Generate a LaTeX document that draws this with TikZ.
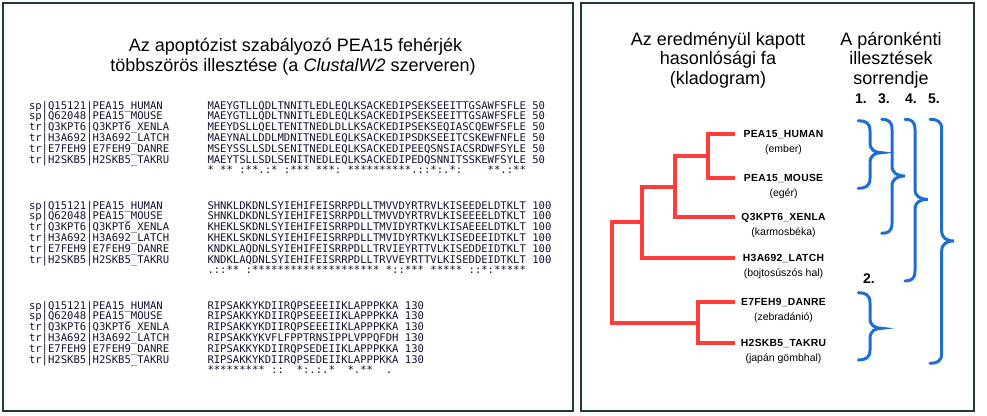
\documentclass[tikz,border=0pt]{standalone}
\usepackage{fontspec}
\setmainfont{Liberation Sans}
\newfontfamily\monof{DejaVu Sans Mono}
\definecolor{panelcol}{HTML}{1E3A3A}
\definecolor{treered}{HTML}{FF3B3B}
\definecolor{braceblue}{HTML}{1E6ED2}
\definecolor{seqcol}{HTML}{1A1030}
\newcommand\drawcbrace[6]{% left, spine, tip, top, middle, bottom
  \draw[brc] (#1,#4) .. controls ({#1+0.6*(#2-#1)},#4) and (#2,{#4+2}) .. (#2,{#4+10})
    -- (#2,{#5-10}) .. controls (#2,{#5-3}) and ({#2+0.4*(#3-#2)},#5) .. (#3,#5)
    .. controls ({#2+0.4*(#3-#2)},#5) and (#2,{#5+3}) .. (#2,{#5+10})
    -- (#2,{#6-10}) .. controls (#2,{#6-2}) and ({#1+0.6*(#2-#1)},#6) .. (#1,#6);}
\tikzset{
  panel/.style={draw=panelcol, line width=1.3bp},
  ttl/.style={font=\fontsize{18bp}{20bp}\selectfont, anchor=base, inner sep=0pt, text=black},
  seq/.style={font=\monof\fontsize{10.58bp}{12bp}\selectfont\frenchspacing, anchor=base west, inner sep=0pt, outer sep=0pt, text=seqcol},
  branch/.style={draw=treered, line width=4bp},
  lname/.style={font=\bfseries\fontsize{10.3bp}{12bp}\selectfont\addfontfeature{LetterSpace=3}, anchor=base, inner sep=0pt},
  lsub/.style={font=\fontsize{10.5bp}{12bp}\selectfont, anchor=base, inner sep=0pt},
  brc/.style={draw=braceblue, line width=3bp, line cap=round},
  num/.style={font=\bfseries\fontsize{14bp}{16bp}\selectfont, anchor=base, inner sep=0pt}
}
\begin{document}
\begin{tikzpicture}[x=1bp,y=-1bp]
\useasboundingbox (0,0) rectangle (987,415);
\draw[panel] (3,3) rectangle (573,411);
\draw[panel] (581,3) rectangle (974,411);

% titles
\node[ttl] (t1a) at (295.5,51.7) {Az apoptózist szabályozó PEA15 fehérjék};
\node[ttl] (t1b) at (293,71.7) {többszörös illesztése (a \textit{ClustalW2} szerveren)};
\node[ttl] (t2a) at (718,45) {Az eredményül kapott};
\node[ttl] (t2b) at (718,64.5) {hasonlósági fa};
\node[ttl] (t2c) at (718,84) {(kladogram)};
\node[ttl] (t3a) at (891,45) {A páronkénti};
\node[ttl] (t3b) at (891,64.5) {illesztések};
\node[ttl] (t3c) at (891,84) {sorrendje};

% block 1
\node[seq] (n00) at (29,109.0) {sp|Q15121|PEA15\_HUMAN};
\node[seq] (n01) at (29,119.8) {sp|Q62048|PEA15\_MOUSE};
\node[seq] (n02) at (29,130.6) {tr|Q3KPT6|Q3KPT6\_XENLA};
\node[seq] (n03) at (29,141.4) {tr|H3A692|H3A692\_LATCH};
\node[seq] (n04) at (29,152.2) {tr|E7FEH9|E7FEH9\_DANRE};
\node[seq] (n05) at (29,163.0) {tr|H2SKB5|H2SKB5\_TAKRU};
\node[seq] (s00) at (207.5,109.0) {MAEYGTLLQDLTNNITLEDLEQLKSACKEDIPSEKSEEITTGSAWFSFLE~50};
\node[seq] (s01) at (207.5,119.8) {MAEYGTLLQDLTNNITLEDLEQLKSACKEDIPSEKSEEITTGSAWFSFLE~50};
\node[seq] (s02) at (207.5,130.6) {MEEYDSLLQELTENITNEDLDLLKSACKEDIPSEKSEQIASCQEWFSFLE~50};
\node[seq] (s03) at (207.5,141.4) {MAEYNALLDDLMDNITNEDLEQLKSACKEDIPSDKSEEITCSKEWFNFLE~50};
\node[seq] (s04) at (207.5,152.2) {MSEYSSLLSDLSENITNEDLEQLKSACKEDIPEEQSNSIACSRDWFSYLE~50};
\node[seq] (s05) at (207.5,163.0) {MAEYTSLLSDLSENITNEDLEQLKSACKEDIPEDQSNNITSSKEWFSYLE~50};
\node[seq] (c0) at (207.5,173.8) {*~**~:**.:*~:***~***:~**********.::*:.*:~~~~**.:**};

% block 2
\node[seq] (n10) at (29,209.0) {sp|Q15121|PEA15\_HUMAN};
\node[seq] (n11) at (29,219.8) {sp|Q62048|PEA15\_MOUSE};
\node[seq] (n12) at (29,230.6) {tr|Q3KPT6|Q3KPT6\_XENLA};
\node[seq] (n13) at (29,241.4) {tr|H3A692|H3A692\_LATCH};
\node[seq] (n14) at (29,252.2) {tr|E7FEH9|E7FEH9\_DANRE};
\node[seq] (n15) at (29,263.0) {tr|H2SKB5|H2SKB5\_TAKRU};
\node[seq] (s10) at (207.5,209.0) {SHNKLDKDNLSYIEHIFEISRRPDLLTMVVDYRTRVLKISEEDELDTKLT~100};
\node[seq] (s11) at (207.5,219.8) {SHNKLDKDNLSYIEHIFEISRRPDLLTMVVDYRTRVLKISEEEELDTKLT~100};
\node[seq] (s12) at (207.5,230.6) {KHEKLSKDNLSYIEHIFEISRRPDLLTMVIDYRTKVLKISAEEELDTKLT~100};
\node[seq] (s13) at (207.5,241.4) {KHEKLSKDNLSYIEHIFEISRRPDLLTMVIDYRTKVLKISEDEEIDTKLT~100};
\node[seq] (s14) at (207.5,252.2) {KNDKLAQDNLSYIEHIFEISRRPDLLTRVIEYRTTVLKISEDDEIDTKLT~100};
\node[seq] (s15) at (207.5,263.0) {KNDKLAQDNLSYIEHIFEISRRPDLLTRVVEYRTTVLKISEDDEIDTKLT~100};
\node[seq] (c1) at (207.5,273.8) {.::**~:********************~*::***~*****~::*:*****};

% block 3
\node[seq] (n20) at (29,309.0) {sp|Q15121|PEA15\_HUMAN};
\node[seq] (n21) at (29,319.8) {sp|Q62048|PEA15\_MOUSE};
\node[seq] (n22) at (29,330.6) {tr|Q3KPT6|Q3KPT6\_XENLA};
\node[seq] (n23) at (29,341.4) {tr|H3A692|H3A692\_LATCH};
\node[seq] (n24) at (29,352.2) {tr|E7FEH9|E7FEH9\_DANRE};
\node[seq] (n25) at (29,363.0) {tr|H2SKB5|H2SKB5\_TAKRU};
\node[seq] (s20) at (207.5,309.0) {RIPSAKKYKDIIRQPSEEEIIKLAPPPKKA~130};
\node[seq] (s21) at (207.5,319.8) {RIPSAKKYKDIIRQPSEEEIIKLAPPPKKA~130};
\node[seq] (s22) at (207.5,330.6) {RIPSAKKYKDIIRQPSEEEIIKLAPPPKKA~130};
\node[seq] (s23) at (207.5,341.4) {RIPSAKKYKVFLFPPTRNSIPPLVPPQFDH~130};
\node[seq] (s24) at (207.5,352.2) {RIPSAKKYKDIIRQPSEDEIIKLAPPPKKA~130};
\node[seq] (s25) at (207.5,363.0) {RIPSAKKYKDIIRQPSEDEIIKLAPPPKKA~130};
\node[seq] (c2) at (207.5,373.8) {*********~::~~*:.:.*~~*.**~~.};

% tree
\coordinate (lhum) at (735,134);
\coordinate (lmou) at (735,178);
\coordinate (lxen) at (735,217);
\coordinate (llat) at (735,258);
\coordinate (ldan) at (735,302);
\coordinate (ltak) at (735,343);
\coordinate (j1) at (708,156);
\coordinate (j2) at (675,186.5);
\coordinate (j3) at (642,222);
\coordinate (j4) at (698,322.5);
\coordinate (jr) at (612,272.25);
\draw[branch] (lhum) -| (j1) |- (lmou);
\draw[branch] (j1) -| (j2) |- (lxen);
\draw[branch] (j2) -| (j3) |- (llat);
\draw[branch] (j3) -| (jr) |- (j4);
\draw[branch] (ldan) -| (j4) |- (ltak);

% leaf labels
\node[lname] (hum) at (783.5,137.7) {PEA15\_HUMAN};
\node[lsub] (humc) at (783.5,152.7) {(ember)};
\node[lname] (mou) at (783.5,181.7) {PEA15\_MOUSE};
\node[lsub] (mouc) at (783.5,196.7) {(egér)};
\node[lname] (xen) at (783.5,220.7) {Q3KPT6\_XENLA};
\node[lsub] (xenc) at (783.5,235.7) {(karmosbéka)};
\node[lname] (lat) at (783.5,261.7) {H3A692\_LATCH};
\node[lsub] (latc) at (783.5,276.7) {(bojtosúszós hal)};
\node[lname] (dan) at (783.5,305.7) {E7FEH9\_DANRE};
\node[lsub] (danc) at (783.5,320.7) {(zebradánió)};
\node[lname] (tak) at (783.5,346.7) {H2SKB5\_TAKRU};
\node[lsub] (takc) at (783.5,361.7) {(japán gömbhal)};

% order numbers
\node[num] (o1) at (861,103.3) {1.};
\node[num] (o3) at (884,103.3) {3.};
\node[num] (o4) at (911,103.3) {4.};
\node[num] (o5) at (934,103.3) {5.};
\node[num] (o2) at (869,283.3) {2.};

% braces
\drawcbrace{858.3}{870}{881.7}{120.7}{152.7}{188.3}
\drawcbrace{881.7}{892}{905}{119.3}{176}{233.3}
\drawcbrace{905}{915}{927.7}{119.3}{199.3}{281}
\drawcbrace{930}{941.7}{954}{119.3}{241}{363.3}
\drawcbrace{858.3}{870}{881.7}{292.7}{328.3}{360}
\end{tikzpicture}
\end{document}
